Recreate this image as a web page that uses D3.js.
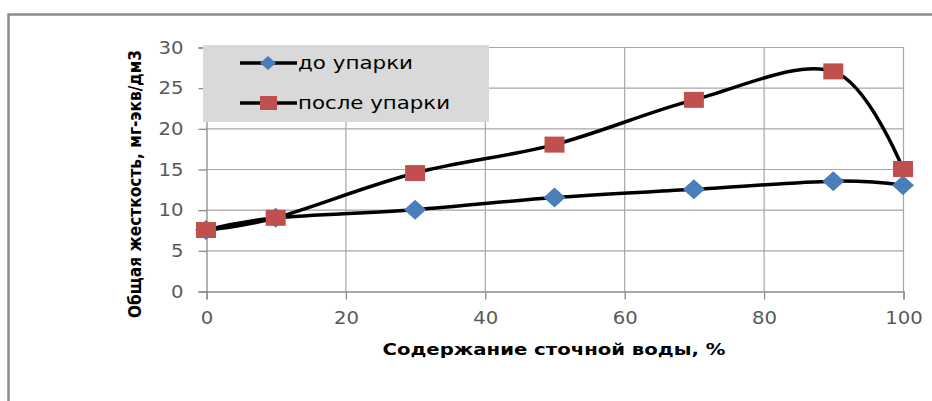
<!DOCTYPE html>
<html>
<head>
<meta charset="utf-8">
<script src="https://cdn.jsdelivr.net/npm/d3@7"></script>
<style>
  body { margin: 0; background: #fff; }
  svg { display: block; }
</style>
</head>
<body>
<div id="chart"></div>
<script>
// water content, % and hardness, mg-eq/dm3
const xValues = [0, 10, 30, 50, 70, 90, 100];
const beforeEvap = [7.5, 9, 10, 11.5, 12.5, 13.5, 13];
const afterEvap = [7.5, 9, 14.5, 18, 23.5, 27, 15];
const seriesNames = ["до упарки", "после упарки"];
const xTicks = [0, 20, 40, 60, 80, 100];
const yTicks = [0, 5, 10, 15, 20, 25, 30];

const width = 932, height = 401;
const svg = d3.select("#chart").append("svg").attr("width", width).attr("height", height);

//outer frame (only left and top visible)
svg.append("path").attr("d", `M8.5,401 V14.5 H932`)
  .attr("fill", "none").attr("stroke", "#8c8c8c").attr("stroke-width", 2.5);

const x = d3.scaleLinear().domain([0, 100]).range([206, 903]);
const y = d3.scaleLinear().domain([0, 30]).range([291, 47]);

//grid
const grid = svg.append("g");
grid.selectAll("line.h").data(yTicks.slice(1)).join("line")
  .attr("x1", x(0)).attr("x2", x(100)).attr("y1", d => y(d) + 0.5).attr("y2", d => y(d) + 0.5)
  .attr("stroke", "#a6a6a6").attr("stroke-width", 1.2);
grid.selectAll("line.v").data(xTicks.slice(1)).join("line")
  .attr("x1", d => x(d) + 0.5).attr("x2", d => x(d) + 0.5).attr("y1", y(30)).attr("y2", y(0))
  .attr("stroke", "#a6a6a6").attr("stroke-width", 1.2);

//axes
const yAxis = d3.axisLeft(y).tickValues(yTicks).tickSize(8).tickPadding(15);
const xAxis = d3.axisBottom(x).tickValues(xTicks).tickSize(8).tickPadding(12);
const gy = svg.append("g").attr("transform", "translate(206.5,0.5)").call(yAxis);
const gx = svg.append("g").attr("transform", "translate(0.5,291.5)").call(xAxis);
[gx, gy].forEach(g => {
  g.select(".domain").attr("stroke", "#8c8c8c").attr("stroke-width", 1.3);
  g.selectAll(".tick line").attr("stroke", "#8c8c8c").attr("stroke-width", 1.3);
  g.selectAll("text").attr("font-family", "DejaVu Sans").attr("font-size", 18).attr("fill", "#595959")
    .attr("textLength", d => String(d).length * 12.5).attr("lengthAdjust", "spacingAndGlyphs");
});

//legend box
const legend = svg.append("g");
legend.append("rect").attr("x", 203).attr("y", 45).attr("width", 286).attr("height", 77).attr("fill", "#d9d9d9");

function diamond(hw, hh) {
  return `M0,${-hh} L${hw},0 L0,${hh} L${-hw},0 Z`;
}

const series = [
  { name: seriesNames[0], values: beforeEvap, color: "#4a7ebb", shape: "diamond" },
  { name: seriesNames[1], values: afterEvap, color: "#c0504d", shape: "square" }
];

const line = d3.line().x(d => x(d[0])).y(d => y(d[1])).curve(d3.curveCardinal.tension(0));

series.forEach((s, i) => {
  const pts = xValues.map((v, j) => [v, s.values[j]]);
  svg.append("path").datum(pts).attr("d", line)
    .attr("fill", "none").attr("stroke", "#000").attr("stroke-width", 3.5);
  const marks = svg.append("g").selectAll("g").data(pts).join("g")
    .attr("transform", d => `translate(${x(d[0])},${y(d[1])})`);
  if (s.shape === "diamond") {
    marks.append("path").attr("d", diamond(11, 10)).attr("fill", s.color);
  } else {
    marks.append("rect").attr("x", -10).attr("y", -8).attr("width", 20).attr("height", 16).attr("fill", s.color);
  }

  //legend entry
  const ly = 63 + i * 40;
  legend.append("line").attr("x1", 240).attr("x2", 297).attr("y1", ly).attr("y2", ly)
    .attr("stroke", "#000").attr("stroke-width", 3.5);
  if (s.shape === "diamond") {
    legend.append("path").attr("transform", `translate(268,${ly})`).attr("d", diamond(8, 7)).attr("fill", s.color);
  } else {
    legend.append("rect").attr("x", 260).attr("y", ly - 7).attr("width", 17).attr("height", 14).attr("fill", s.color);
  }
  legend.append("text").attr("x", 298).attr("y", ly).attr("dy", "0.35em")
    .attr("font-family", "DejaVu Sans").attr("font-size", 18).attr("fill", "#000")
    .attr("textLength", i === 0 ? 115 : 152).attr("lengthAdjust", "spacingAndGlyphs")
    .text(s.name);
});

//axis titles
svg.append("text").attr("x", 554).attr("y", 349).attr("dy", "0.35em").attr("text-anchor", "middle")
  .attr("font-family", "DejaVu Sans").attr("font-weight", "bold").attr("font-size", 16).attr("fill", "#000")
  .attr("textLength", 343).attr("lengthAdjust", "spacingAndGlyphs")
  .text("Содержание сточной воды, %");

svg.append("text").attr("transform", "translate(135,184) rotate(-90)").attr("dy", "0.35em")
  .attr("text-anchor", "middle")
  .attr("font-family", "DejaVu Sans").attr("font-weight", "bold").attr("font-size", 17).attr("fill", "#000")
  .attr("textLength", 268).attr("lengthAdjust", "spacingAndGlyphs")
  .text("Общая жесткость, мг-экв/дм3");
</script>
</body>
</html>
